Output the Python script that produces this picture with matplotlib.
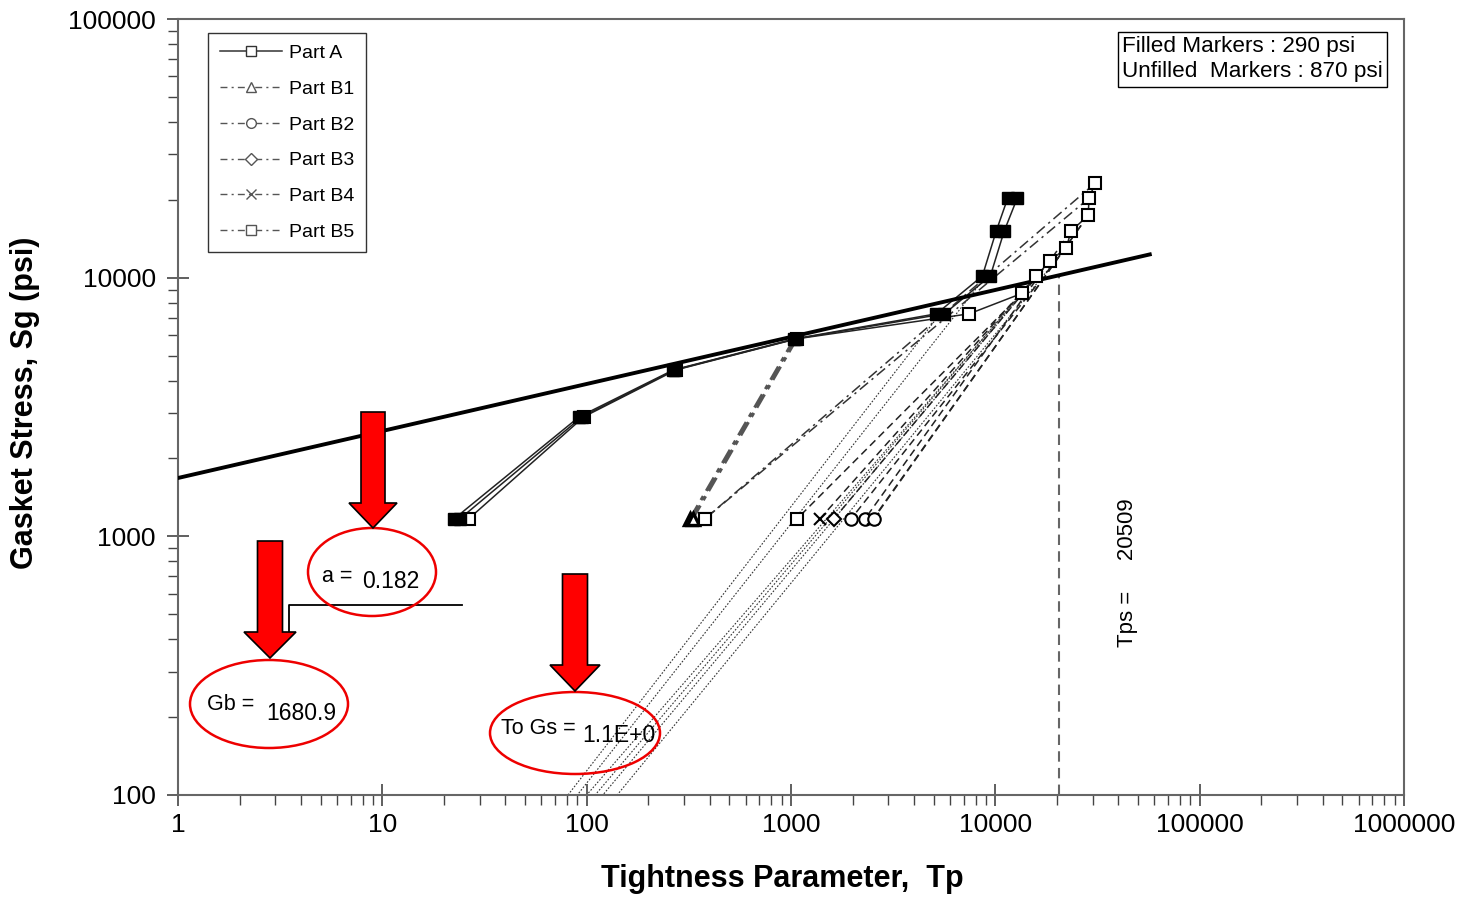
import matplotlib
matplotlib.use('Agg')
import matplotlib.pyplot as plt
from matplotlib.lines import Line2D
from matplotlib.patches import Ellipse, Polygon
from matplotlib.ticker import FuncFormatter, NullFormatter

plt.rcParams['font.family'] = ['Liberation Sans', 'DejaVu Sans']

W, H = 1464, 898

# ---- values ----
# Part A loading, 290 psi (filled markers), two overlapping runs
a290_sg = [1170, 2900, 4400, 5800, 7250, 10150, 15140, 20300]
a290_tp_run1 = [22.5, 92, 266, 1040, 5150, 8640, 10100, 11500]
a290_tp_run2 = [24, 95, 270, 1055, 5630, 9450, 11050, 12800]

# Part A loading, 870 psi (unfilled markers)
a870_sg = [1170, 2900, 4400, 5800, 7250, 8700, 10150, 11600, 13050, 15140, 17400, 20300, 23200]
a870_tp = [26.5, 97, 274, 1065, 7450, 13530, 15840, 18530, 22220, 23500, 28450, 28770, 30800]

# Part B unloading: start point on Part A -> end at the low stress level
b_part = ['B1', 'B1', 'B5', 'B5', 'B5', 'B4', 'B3', 'B2', 'B2', 'B4', 'B2']
b_start_tp = [1040, 1065, 30800, 28770, 13530, 15840, 18530, 22220, 23500, 28450, 28450]
b_start_sg = [5800, 5800, 23200, 20300, 8700, 10150, 11600, 13050, 15140, 17400, 17400]
b_end_tp = [321, 330, 380, 380, 1072, 1387, 1625, 1970, 2305, 2523, 2540]
b_end_sg = 1170

# dotted extrapolations down to 100 psi
ext_top_tp = [5370, 9016, 13530, 15840, 18530, 22220]
ext_top_sg = [7250, 10150, 8700, 10150, 11600, 13050]
ext_bot_tp = [81, 90, 100, 110, 120, 141]
ext_bot_sg = 100

# fitted line  Sg = Gb * Tp^a
fit_tp = [1, 57000]
fit_sg = [1680.9, 12300]
Gb = 1680.9
a_exp = 0.182
tps = 20509
tps_sg = 10240

x_ticks = [1, 10, 100, 1000, 10000, 100000, 1000000]
y_ticks = [100, 1000, 10000, 100000]

markers = {'A': 's', 'B1': '^', 'B2': 'o', 'B3': 'D', 'B4': 'x', 'B5': 's'}


def fig_xy(px, py):
    return px / W, 1 - py / H


fig = plt.figure(figsize=(W / 100, H / 100), dpi=100)
ax = fig.add_axes([178 / W, 1 - 795 / H, (1404 - 178) / W, (795 - 19) / H])
ax.set_xscale('log')
ax.set_yscale('log')
ax.set_xlim(1, 1e6)
ax.set_ylim(100, 1e5)

# dotted extrapolations
for xt, yt, xb in zip(ext_top_tp, ext_top_sg, ext_bot_tp):
    ax.plot([xt, xb], [yt, ext_bot_sg], color='#333333', lw=0.8,
            ls=(0, (1.5, 1.5)), zorder=2)

# Tps marker line
ax.plot([tps, tps], [100, tps_sg], color='#666666', lw=1.5, ls=(0, (5, 3)), zorder=2)

# Part B unloading lines
for part, x0, y0, x1 in zip(b_part, b_start_tp, b_start_sg, b_end_tp):
    if part == 'B1':
        style = dict(color='#555555', lw=2.2, ls=(0, (5, 2, 1.5, 2)))
    elif y0 > 20000:
        style = dict(color='#333333', lw=1.1, ls=(0, (7, 3, 1.5, 3)))
    else:
        style = dict(color='#222222', lw=1.1, ls=(0, (5, 3)))
    ax.plot([x0, x1], [y0, b_end_sg], zorder=3, **style)

# Part A loading curves
for tp in (a290_tp_run1, a290_tp_run2):
    ax.plot(tp, a290_sg, color='#222222', lw=1.1, zorder=4)
ax.plot(a870_tp, a870_sg, color='#222222', lw=1.1, zorder=4)

# fitted line
ax.plot(fit_tp, fit_sg, color='black', lw=2.8, zorder=5)

# markers
ax.plot(a870_tp, a870_sg, ls='none', marker='s', ms=9, mfc='white', mec='black',
        mew=1.5, zorder=6)
for tp in (a290_tp_run1, a290_tp_run2):
    ax.plot(tp, a290_sg, ls='none', marker='s', ms=9, mfc='black', mec='black',
            zorder=7)
for part, x1 in zip(b_part, b_end_tp):
    m = markers[part]
    ms = 7 if m == 'D' else 9
    mew = 2.4 if part == 'B1' else 1.5
    ax.plot([x1], [b_end_sg], ls='none', marker=m, ms=ms, mfc='white',
            mec='black', mew=mew, zorder=6)

# axes styling
for s in ax.spines.values():
    s.set_color('#666666')
    s.set_linewidth(1.5)
ax.set_xticks(x_ticks)
ax.set_yticks(y_ticks)
fmt = FuncFormatter(lambda v, p: f'{v:.0f}')
ax.xaxis.set_major_formatter(fmt)
ax.yaxis.set_major_formatter(fmt)
ax.xaxis.set_minor_formatter(NullFormatter())
ax.yaxis.set_minor_formatter(NullFormatter())
ax.set_xlim(1, 1e6)
ax.set_ylim(100, 1e5)
ax.tick_params(which='major', direction='inout', length=16, width=1.2,
               color='#444444', labelsize=19, labelcolor='black')
ax.tick_params(axis='x', which='major', pad=5)
ax.tick_params(axis='y', which='major', pad=8)
ax.tick_params(which='minor', direction='out', length=7, width=1.0, color='#444444')

# legend
handles = [Line2D([], [], color='#333333', lw=1.1, marker='s', ms=7, mfc='white',
                  mec='#333333', label='Part A')]
for part in ['B1', 'B2', 'B3', 'B4', 'B5']:
    m = markers[part]
    handles.append(Line2D([], [], color='#555555', lw=1.0, ls=(0, (5, 3, 1.5, 3)),
                          marker=m, ms=6 if m == 'D' else 7, mfc='white',
                          mec='#555555', label='Part ' + part))
leg = ax.legend(handles=handles, loc='upper left',
                bbox_to_anchor=((208 - 178) / 1226, (795 - 33) / 776),
                borderaxespad=0, fontsize=14, frameon=True, fancybox=False,
                edgecolor='black', handlelength=3.2, handletextpad=0.35,
                labelspacing=0.93, borderpad=0.6)
leg.get_frame().set_linewidth(1.0)

# pressure note
fig.text(*fig_xy(1122, 59), 'Filled Markers : 290 psi\nUnfilled  Markers : 870 psi',
         fontsize=16.2, ha='left', va='center', linespacing=1.25,
         bbox=dict(boxstyle='square,pad=0.2', fc='white', ec='black', lw=1.0))

# Tps label
fig.text(*fig_xy(1128, 573), f'Tps =     {tps}', rotation=90, fontsize=16,
         ha='center', va='center')


# red arrows, ellipses and fit annotations
def down_arrow(xc, top, tip, shaft_w, head_w, head_h):
    neck = tip - head_h
    pts = [(xc - shaft_w / 2, top), (xc + shaft_w / 2, top), (xc + shaft_w / 2, neck),
           (xc + head_w / 2, neck), (xc, tip), (xc - head_w / 2, neck),
           (xc - shaft_w / 2, neck)]
    fig.add_artist(Polygon([fig_xy(*p) for p in pts], closed=True, fc='#ff0000',
                           ec='black', lw=1.2, transform=fig.transFigure, zorder=10))


def ring(cx, cy, w, h):
    fig.add_artist(Ellipse(fig_xy(cx, cy), w / W, h / H, fill=False, ec='#ee0000',
                           lw=1.8, transform=fig.transFigure, zorder=9))


ring(372, 572, 128, 88)
ring(269, 704, 158, 88)
ring(575, 733, 170, 82)
down_arrow(373, 412, 528, 24, 48, 25)
down_arrow(270, 541, 658, 25, 52, 26)
down_arrow(575, 574, 691, 25, 50, 26)

bx, by = zip(*[fig_xy(289, 632), fig_xy(289, 605), fig_xy(462, 605)])
fig.add_artist(Line2D(bx, by, color='black', lw=1.3, transform=fig.transFigure))

fig.text(*fig_xy(322, 577), 'a =', fontsize=15.5, ha='left', va='center')
fig.text(*fig_xy(362, 582), f'{a_exp}', fontsize=16.5, ha='left', va='center')
fig.text(*fig_xy(207, 704), 'Gb =', fontsize=15.5, ha='left', va='center')
fig.text(*fig_xy(266, 713), f'{Gb}', fontsize=16.5, ha='left', va='center')
fig.text(*fig_xy(501, 728), 'To Gs =', fontsize=15.5, ha='left', va='center')
fig.text(*fig_xy(582, 736), '1.1E+0', fontsize=16.5, ha='left', va='center')

# axis titles
fig.text(*fig_xy(782, 879), 'Tightness Parameter,  Tp', fontsize=22,
         fontweight='bold', ha='center', va='center')
fig.text(*fig_xy(25, 403), 'Gasket Stress, Sg (psi)', fontsize=22,
         fontweight='bold', rotation=90, ha='center', va='center')

fig.savefig('out.png', dpi=100)
